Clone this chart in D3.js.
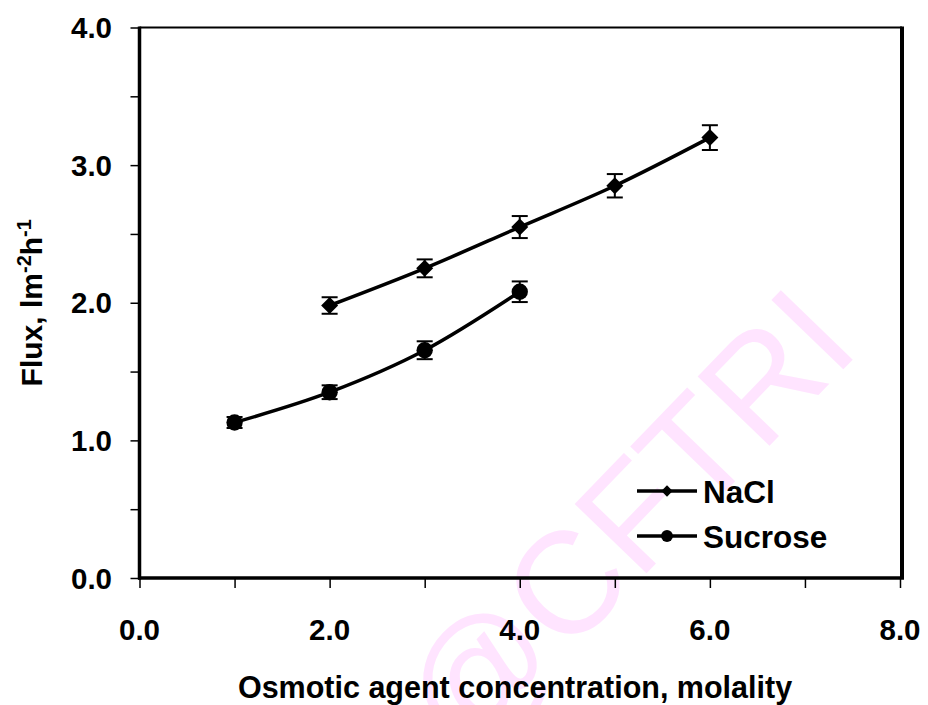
<!DOCTYPE html>
<html>
<head>
<meta charset="utf-8">
<script src="https://cdn.jsdelivr.net/npm/d3@7"></script>
<style>
  body { margin: 0; background: #fff; }
  text { font-family: "Liberation Sans", Arial, sans-serif; font-weight: bold; }
</style>
</head>
<body>
<div id="chart"></div>
<script>
const W = 928, H = 705;
const margin = { top: 27.5, right: 28, bottom: 127, left: 139.5 };

// data
const concNaCl = [2, 3, 4, 5, 6];
const fluxNaCl = [1.98, 2.25, 2.55, 2.85, 3.2];
const errNaCl = [0.06, 0.065, 0.08, 0.085, 0.09];

const concSucrose = [1, 2, 3, 4];
const fluxSucrose = [1.13, 1.35, 1.655, 2.08];
const errSucrose = [0.04, 0.05, 0.065, 0.075];

const xTicks = [0, 1, 2, 3, 4, 5, 6, 7, 8];
const xLabels = [0, 2, 4, 6, 8];
const yTicks = [0, 0.5, 1, 1.5, 2, 2.5, 3, 3.5, 4];
const yLabels = [0, 1, 2, 3, 4];

const seriesNames = ["NaCl", "Sucrose"];

const svg = d3.select("#chart").append("svg")
  .attr("width", W).attr("height", H);

const x = d3.scaleLinear().domain([0, 8]).range([margin.left, W - margin.right]);
const y = d3.scaleLinear().domain([0, 4]).range([H - margin.bottom, margin.top]);

// watermark
svg.append("text")
  .attr("transform", "translate(862,350) rotate(-46)")
  .attr("text-anchor", "end")
  .style("font-weight", "normal")
  .style("font-size", "145px")
  .attr("fill", "#ffe4ff")
  .text("@CFTRI");

// frame: thin top, thick right
svg.append("line")
  .attr("x1", x(0)).attr("x2", x(8) + 2)
  .attr("y1", y(4)).attr("y2", y(4))
  .attr("stroke", "#000").attr("stroke-width", 2);
svg.append("line")
  .attr("x1", x(8) + 2).attr("x2", x(8) + 2)
  .attr("y1", y(4) - 1).attr("y2", y(0))
  .attr("stroke", "#000").attr("stroke-width", 4);

// axes
svg.append("g")
  .attr("transform", "translate(0," + y(0) + ")")
  .call(d3.axisBottom(x).tickValues(xTicks).tickSize(10).tickFormat(""))
  .call(g => g.select(".domain").attr("stroke-width", 3.5).attr("d", "M" + (x(0) - 1.5) + ",0H" + (x(8) + 4)))
  .call(g => g.selectAll(".tick line").attr("stroke-width", 1.5));

svg.append("g")
  .attr("transform", "translate(" + x(0) + ",0)")
  .call(d3.axisLeft(y).tickValues(yTicks).tickSize(9).tickFormat(""))
  .call(g => g.select(".domain").attr("stroke-width", 3.5).attr("d", "M0," + (y(0) + 1.5) + "V" + (y(4) - 1)))
  .call(g => g.selectAll(".tick line").attr("stroke-width", 1.5));

svg.selectAll(".xlab").data(xLabels).enter().append("text")
  .attr("class", "xlab")
  .attr("x", d => x(d)).attr("y", 640)
  .attr("text-anchor", "middle")
  .style("font-size", "29.5px")
  .text(d => d.toFixed(1));

svg.selectAll(".ylab").data(yLabels).enter().append("text")
  .attr("class", "ylab")
  .attr("x", 112).attr("y", d => y(d) + 10.5)
  .attr("text-anchor", "end")
  .style("font-size", "29.5px")
  .text(d => d.toFixed(1));

// axis titles
svg.append("text")
  .attr("x", 515).attr("y", 698)
  .attr("text-anchor", "middle")
  .style("font-size", "30.5px")
  .text("Osmotic agent concentration, molality");

const yt = svg.append("text")
  .attr("transform", "translate(42," + ((y(0) + y(4)) / 2) + ") rotate(-90)")
  .attr("text-anchor", "middle")
  .style("font-size", "30px");
yt.append("tspan").text("Flux, lm");
yt.append("tspan").attr("dy", -11).style("font-size", "20px").text("-2");
yt.append("tspan").attr("dy", 11).text("h");
yt.append("tspan").attr("dy", -11).style("font-size", "20px").text("-1");

// series
const curve = d3.curveCardinal.tension(0);
const line = d3.line().x(d => x(d[0])).y(d => y(d[1])).curve(curve);

const naclPts = concNaCl.map((c, i) => [c, fluxNaCl[i], errNaCl[i]]);
const sucPts = concSucrose.map((c, i) => [c, fluxSucrose[i], errSucrose[i]]);

function drawSeries(pts, shape) {
  svg.append("path")
    .datum(pts)
    .attr("d", line)
    .attr("fill", "none")
    .attr("stroke", "#000")
    .attr("stroke-width", 3.5);

  const g = svg.append("g");
  pts.forEach(p => {
    const cx = x(p[0]);
    g.append("line")
      .attr("x1", cx).attr("x2", cx)
      .attr("y1", y(p[1] - p[2])).attr("y2", y(p[1] + p[2]))
      .attr("stroke", "#000").attr("stroke-width", 2);
    [p[1] - p[2], p[1] + p[2]].forEach(v => {
      g.append("line")
        .attr("x1", cx - 8).attr("x2", cx + 8)
        .attr("y1", y(v)).attr("y2", y(v))
        .attr("stroke", "#000").attr("stroke-width", 2);
    });
  });

  g.selectAll(".m").data(pts).enter().append("path")
    .attr("d", d3.symbol().type(shape === "diamond" ? d3.symbolSquare : d3.symbolCircle)
      .size(shape === "diamond" ? 145 : 210))
    .attr("transform", d => "translate(" + x(d[0]) + "," + y(d[1]) + ")" + (shape === "diamond" ? " rotate(45)" : ""))
    .attr("fill", "#000");
}

drawSeries(naclPts, "diamond");
drawSeries(sucPts, "circle");

// legend
const legY = [491, 536];
const legShapes = ["diamond", "circle"];
seriesNames.forEach((name, i) => {
  svg.append("line")
    .attr("x1", 637).attr("x2", 697)
    .attr("y1", legY[i]).attr("y2", legY[i])
    .attr("stroke", "#000").attr("stroke-width", 3.5);
  svg.append("path")
    .attr("d", d3.symbol().type(legShapes[i] === "diamond" ? d3.symbolSquare : d3.symbolCircle)
      .size(legShapes[i] === "diamond" ? 64 : 110))
    .attr("transform", "translate(667," + legY[i] + ")" + (legShapes[i] === "diamond" ? " rotate(45)" : ""))
    .attr("fill", "#000");
  svg.append("text")
    .attr("x", 703).attr("y", legY[i] + 11.5)
    .style("font-size", "31.5px")
    .text(name);
});
</script>
</body>
</html>
